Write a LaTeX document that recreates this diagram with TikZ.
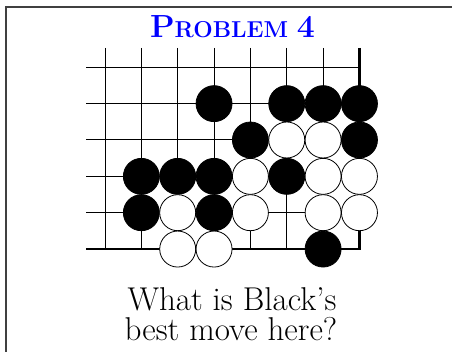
\documentclass[tikz,border=0pt]{standalone}
\usepackage{fontspec}
\begin{document}
\begin{tikzpicture}[x=1pt,y=-1pt,
  gridline/.style={line width=1pt,black},
  edgeline/.style={line width=2.2pt,black},
  bstone/.style={circle,fill=black,draw=black,line width=0.8pt,minimum size=36pt,inner sep=0pt},
  wstone/.style={circle,fill=white,draw=black,line width=0.8pt,minimum size=36pt,inner sep=0pt},
  qtext/.style={anchor=base,inner sep=0pt,font=\fontsize{33}{33}\selectfont},
  framestyle/.style={line width=1.6pt,black!75}]
\useasboundingbox (0,0) rectangle (452,352);
\fill[white] (0,0) rectangle (452,352);
\def\gx{105}\def\gy{67.3}\def\gs{36.35}
% frame
\draw[framestyle] (6,352) -- (6,7) -- (452,7);
% grid
\foreach \j in {0,...,4} \draw[gridline] (86,\gy+\j*\gs) -- (\gx+7*\gs,\gy+\j*\gs);
\foreach \i in {0,...,6} \draw[gridline] (\gx+\i*\gs,48) -- (\gx+\i*\gs,\gy+5*\gs);
\draw[edgeline] (\gx+7*\gs,48) -- (\gx+7*\gs,\gy+5*\gs) -- (86,\gy+5*\gs);
% stones
\foreach \c/\r/\s [count=\n] in {3/1/b,5/1/b,6/1/b,7/1/b,
  4/2/b,5/2/w,6/2/w,7/2/b,
  1/3/b,2/3/b,3/3/b,4/3/w,5/3/b,6/3/w,7/3/w,
  1/4/b,2/4/w,3/4/b,4/4/w,6/4/w,7/4/w,
  2/5/w,3/5/w,6/5/b}
  \node[\s stone] (st\n) at (\gx+\c*\gs,\gy+\r*\gs) {};
% title
\node[anchor=base,text=blue,inner sep=0pt] (title) at (232.5,37.7)
  {\fontsize{32}{32}\selectfont\bfseries P\fontsize{23}{23}\selectfont ROBLEM \fontsize{32}{32}\selectfont 4};
% question
\node[qtext] (q1) at (232,310) {What is Black's};
\node[qtext] (q2) at (231,340.5) {best move here?};
\end{tikzpicture}
\end{document}
